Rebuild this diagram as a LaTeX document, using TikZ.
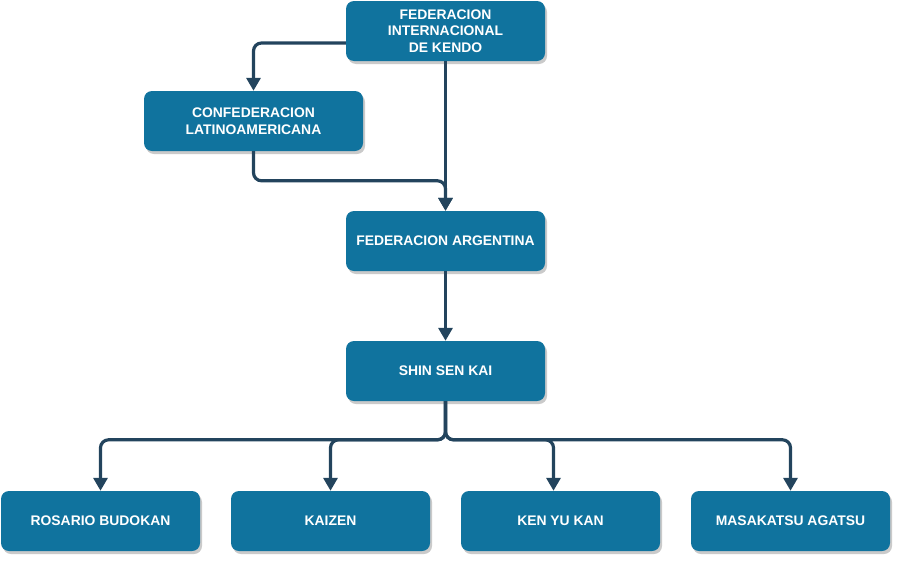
\documentclass[tikz,border=0pt]{standalone}
\usepackage{fontspec}
\setmainfont{Liberation Sans}
\usetikzlibrary{arrows.meta,shadows,calc}
\definecolor{boxfill}{HTML}{10739E}
\definecolor{linecol}{HTML}{23445D}
\tikzset{
  box/.style={rectangle, rounded corners=8pt, fill=boxfill, draw=none,
    minimum width=199pt, minimum height=60pt, inner sep=0pt, align=center,
    text=white, font=\bfseries\fontsize{13.9pt}{16.5pt}\selectfont,
    drop shadow={shadow xshift=2pt, shadow yshift=-3pt, fill=black!60, opacity=0.35}},
  conn/.style={draw=linecol, line width=3.2pt, rounded corners=8pt,
    -{Triangle[width=14pt,length=13pt]}}
}
\begin{document}
\begin{tikzpicture}[x=1pt,y=-1pt]
\useasboundingbox (0,0) rectangle (904,565);
\node[box] (fik) at (445.5,31) {FEDERACION\\INTERNACIONAL\\DE KENDO};
\node[box, minimum width=219pt] (cla) at (253.5,121) {CONFEDERACION\\LATINOAMERICANA};
\node[box] (fa) at (445.5,241) {FEDERACION ARGENTINA};
\node[box] (ssk) at (445.5,371) {SHIN SEN KAI};
\node[box] (rb) at (100.5,521) {ROSARIO BUDOKAN};
\node[box] (kz) at (330.5,521) {KAIZEN};
\node[box] (kyk) at (560.5,521) {KEN YU KAN};
\node[box] (ma) at (790.5,521) {MASAKATSU AGATSU};
\draw[conn] ([yshift=-12pt]fik.west) -| (cla.north);
\draw[conn] (cla.south) |- ([yshift=30pt]fa.north) -- (fa.north);
\draw[conn] (fik.south) -- (fa.north);
\draw[conn] (fa.south) -- (ssk.north);
\draw[conn] (ssk.south) |- ([yshift=51pt]rb.north) -- (rb.north);
\draw[conn] (ssk.south) |- ([yshift=51pt]kz.north) -- (kz.north);
\draw[conn] (ssk.south) |- ([xshift=-7pt,yshift=51pt]kyk.north) -- ([xshift=-7pt]kyk.north);
\draw[conn] (ssk.south) |- ([yshift=51pt]ma.north) -- (ma.north);
\end{tikzpicture}
\end{document}
